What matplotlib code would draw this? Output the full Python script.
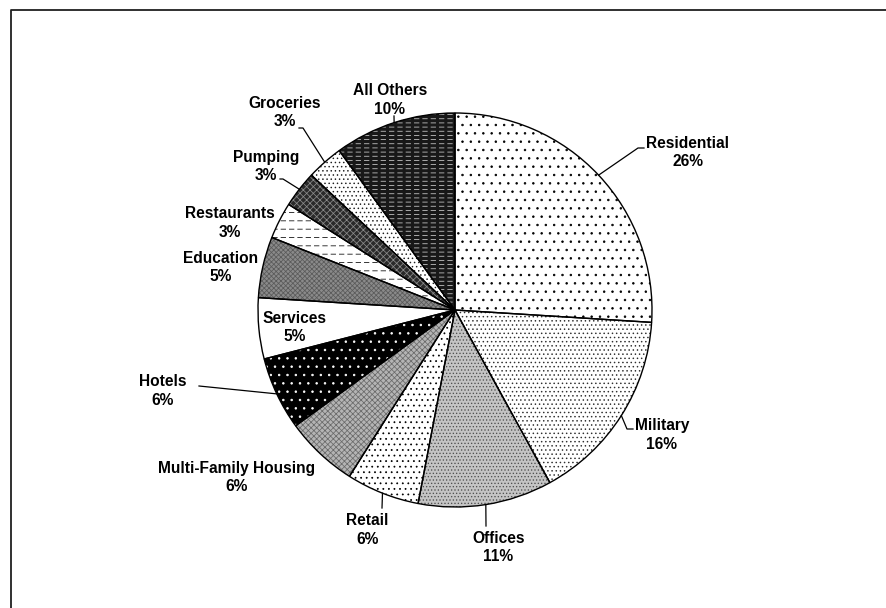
import numpy as np
import matplotlib
matplotlib.use("Agg")
from matplotlib import pyplot as plt
from matplotlib.patches import Wedge

plt.rcParams['font.family'] = ['Liberation Sans', 'DejaVu Sans']
plt.rcParams['hatch.linewidth'] = 0.55

# shares by sector (percent), clockwise from 12 o'clock
categories = ['Residential', 'Military', 'Offices', 'Retail', 'Multi-Family Housing',
              'Hotels', 'Services', 'Education', 'Restaurants', 'Pumping',
              'Groceries', 'All Others']
shares = [26, 16, 11, 6, 6, 6, 5, 5, 3, 3, 3, 10]

# fill patterns: (face, hatch, hatch colour)
fills = [('white', '..', 'black'),
         ('white', '....', '#303030'),
         ('#c4c4c4', '.....', '#505050'),
         ('white', '...', 'black'),
         ('#b4b4b4', 'xxxxxx', '#6a6a6a'),
         ('black', '..', 'white'),
         ('white', '', 'white'),
         ('#8a8a8a', 'xxxxxxx', '#5a5a5a'),
         ('white', '--', 'black'),
         ('#2a2a2a', 'xxxxx', '#8a8a8a'),
         ('white', '....', '#202020'),
         ('#181818', '----', '#d0d0d0')]
# slices whose lines get broken into dashes (overlay colour, hatch)
dash_breaks = {8: ('white', '||'), 11: ('#181818', '||')}

H = 608
center = (455, H - 310)
radius = 197

# label block centres and leader elbows, in pixel coords from the top-left
label_pos = [(688, 152.5), (662, 435), (498.5, 547.5), (367.5, 530), (237, 477.5),
             (163, 391), (295, 327.5), (221, 267.5), (230, 223), (266, 166.5),
             (285, 112.5), (390, 100)]
leaders = [[(644, 148), (638, 148)], [(633, 429), (627, 429)], [(486, 526)],
           [(382, 508)], None, [(199, 386)], None, None, None,
           [(280, 179), (283, 179)], [(299, 128), (303, 128)], [(394, 116)]]

fig = plt.figure(figsize=(8.87, 6.08), dpi=100)
ax = fig.add_axes([0, 0, 1, 1])

wedges, _ = ax.pie(shares, startangle=90, counterclock=False, center=center,
                   radius=radius, wedgeprops=dict(linewidth=0))
for w, (face, hatch, hcol) in zip(wedges, fills):
    w.set_facecolor(face)
    w.set_edgecolor(hcol)
    w.set_hatch(hatch)

for i, (ecol, hatch) in dash_breaks.items():
    w = wedges[i]
    brk = Wedge(w.center, w.r, w.theta1, w.theta2, fill=False, edgecolor=ecol,
                linewidth=0, hatch=hatch)
    if hasattr(brk, 'set_hatch_linewidth'):
        brk.set_hatch_linewidth(2.2)
    ax.add_patch(brk)

ax.pie(shares, startangle=90, counterclock=False, center=center, radius=radius,
       wedgeprops=dict(fill=False, edgecolor='black', linewidth=1.0))

for w, name, val, (lx, ly), lead in zip(wedges, categories, shares, label_pos, leaders):
    ax.text(lx, H - ly, f"{name}\n{val}%", ha='center', va='center',
            fontsize=11.2, fontweight='bold', linespacing=1.3)
    if lead is None:
        continue
    mid = np.deg2rad((w.theta1 + w.theta2) / 2)
    ax_pt = (center[0] + radius * np.cos(mid), center[1] + radius * np.sin(mid))
    xs = [p[0] for p in lead] + [ax_pt[0]]
    ys = [H - p[1] for p in lead] + [ax_pt[1]]
    ax.plot(xs, ys, color='black', linewidth=0.9)

# chart area border
ax.plot([11, 11, 900], [-10, H - 10, H - 10], color='#202020', linewidth=1.3)

ax.set_aspect('auto')
ax.set_xlim(0, 887)
ax.set_ylim(0, H)
ax.axis('off')

fig.savefig("out.png", dpi=100, facecolor='white')
